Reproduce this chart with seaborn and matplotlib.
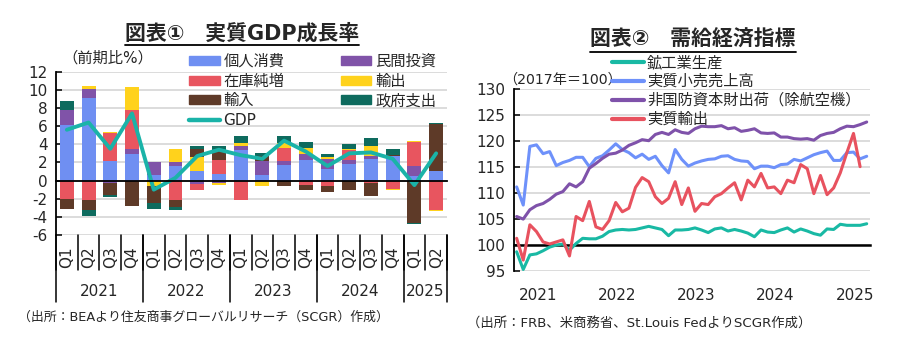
import matplotlib
matplotlib.use("Agg")
import matplotlib.pyplot as plt
import seaborn as sns
import numpy as np
import pandas as pd
from matplotlib.lines import Line2D
from matplotlib.patches import Patch

# ---- chart 1 : real GDP growth contributions (q/q annualised, %) ----
quarters = ["Q1", "Q2", "Q3", "Q4"] * 4 + ["Q1", "Q2"]
gdp_years = ["2021", "2022", "2023", "2024", "2025"]
consumption = [6.18, 9.1, 2.13, 2.98, 0.66, 1.65, 1.1, 0.77, 3.35, 0.66, 1.69, 2.32, 1.32, 1.88, 2.43, 2.68, 0.48, 1.03]
investment = [1.65, 1.0, -0.26, 0.55, 1.4, 0.41, -0.33, -0.26, 0.51, 1.47, 0.44, 0.66, 1.07, 0.44, 0.25, -0.1, 1.17, 0.0]
inventories = [-2.02, -2.1, 3.13, 4.23, 0.0, -2.1, -0.67, 1.47, -2.17, 0.0, 1.47, -0.44, -0.55, 1.1, -0.26, -0.85, 2.58, -3.2]
exports = [0.0, 0.3, 0.07, 2.54, -0.6, 1.43, 1.5, -0.18, 0.29, -0.63, 0.55, 0.62, 0.21, 0.07, 1.18, -0.07, 0.11, -0.18]
imports = [-1.1, -1.1, -1.28, -2.76, -1.86, -0.84, 0.89, 1.0, 0.0, 0.55, -0.63, -0.56, -0.74, -1.0, -1.47, 0.1, -4.67, 5.26]
government = [0.92, -0.73, -0.26, -0.07, -0.63, -0.26, 0.3, 0.55, 0.81, 0.37, 0.81, 0.63, 0.34, 0.59, 0.84, 0.7, -0.11, 0.07]
gdp = [5.6, 6.4, 3.5, 7.4, -1.0, 0.3, 2.7, 3.4, 2.8, 2.4, 4.4, 3.2, 1.6, 3.0, 3.1, 2.4, -0.5, 3.0]

components = ["個人消費", "民間投資", "在庫純増", "輸出", "輸入", "政府支出"]
comp_colors = ["#6f8ff2", "#8053a8", "#e8555f", "#ffd21c", "#5e3a28", "#0e6b5e"]
gdp_color = "#1ab3a8"

# ---- chart 2 : monthly indicators (2017=100), Jan 2021 - Jun 2025 ----
months = pd.date_range("2021-01-01", periods=54, freq="MS")
industrial = [98.7, 95.3, 98.1, 98.3, 98.9, 99.6, 100.0, 100.2, 99.0, 100.3, 101.3, 101.2,
              101.2, 101.7, 102.6, 102.9, 103.0, 102.9, 103.0, 103.3, 103.6, 103.3, 103.0, 101.8,
              102.9, 102.9, 103.0, 103.3, 102.9, 102.4, 103.1, 103.3, 102.7, 103.0, 102.7, 102.3,
              101.6, 102.9, 102.5, 102.4, 102.9, 103.3, 102.5, 103.1, 102.7, 102.2, 101.9, 103.1,
              103.0, 104.0, 103.8, 103.8, 103.8, 104.1]
retail = [111.2, 107.7, 119.0, 119.3, 117.6, 118.0, 115.3, 115.9, 116.3, 116.9, 116.9, 115.1,
          116.7, 117.2, 118.3, 119.5, 118.4, 117.8, 116.8, 117.5, 116.5, 117.1, 115.3, 113.9,
          118.4, 116.5, 115.2, 115.8, 116.2, 116.5, 116.6, 117.1, 117.2, 116.5, 116.2, 116.1,
          114.7, 115.2, 115.2, 114.9, 115.5, 115.6, 116.5, 116.2, 116.8, 117.4, 117.8, 118.1,
          116.3, 116.3, 117.8, 117.9, 116.6, 117.1]
capex = [105.5, 105.0, 106.8, 107.6, 108.0, 108.8, 109.8, 110.3, 111.8, 111.2, 112.2, 114.8,
         115.7, 116.7, 117.5, 117.7, 118.3, 119.2, 119.7, 120.3, 120.1, 121.3, 121.7, 121.3,
         122.2, 121.7, 121.5, 122.4, 122.9, 122.8, 122.8, 123.0, 122.4, 122.6, 121.9, 122.1,
         122.4, 121.6, 121.5, 121.6, 120.8, 120.8, 120.5, 120.4, 120.5, 120.2, 121.1, 121.5,
         121.7, 122.4, 122.9, 122.8, 123.2, 123.7]
real_exports = [101.3, 97.1, 103.9, 102.6, 100.6, 100.2, 100.6, 101.0, 97.9, 105.5, 104.7, 108.4,
                103.5, 103.0, 104.7, 108.2, 106.4, 107.1, 111.1, 113.0, 112.2, 109.3, 108.0, 109.0,
                112.2, 107.8, 111.0, 106.5, 108.0, 107.8, 109.3, 109.9, 111.0, 112.0, 108.7, 112.5,
                111.2, 113.8, 111.0, 111.2, 109.9, 112.5, 112.0, 115.5, 114.7, 109.9, 113.4, 109.7,
                111.0, 113.9, 117.8, 121.5, 115.1]
series_names = ["鉱工業生産", "実質小売売上高", "非国防資本財出荷（除航空機）", "実質輸出"]
series_colors = ["#19b9a4", "#6e91fa", "#7f52aa", "#e8525f"]

sns.set_theme(style="white")
plt.rcParams["font.family"] = ["DejaVu Sans", "Noto Sans CJK JP"]
plt.rcParams["axes.unicode_minus"] = False

fig = plt.figure(figsize=(9, 3.51), dpi=100)
W, H = 900, 351
grid_c = "#d9d9d9"

# ================= left chart =================
ax1 = fig.add_axes([56 / W, 1 - 235 / H, 391 / W, 163.3 / H])
x = np.arange(len(quarters))
vals = np.array([consumption, investment, inventories, exports, imports, government])
pos_base = np.zeros(len(x))
neg_base = np.zeros(len(x))
for name, col, v in zip(components, comp_colors, vals):
    pos = np.where(v > 0, v, 0)
    neg = np.where(v < 0, v, 0)
    ax1.bar(x, pos, bottom=pos_base, width=0.64, color=col, edgecolor="none", zorder=2)
    ax1.bar(x, neg, bottom=neg_base, width=0.64, color=col, edgecolor="none", zorder=2)
    pos_base += pos
    neg_base += neg
sns.lineplot(x=x, y=gdp, ax=ax1, color=gdp_color, lw=2.8, zorder=4)

ax1.set_xlim(-0.5, len(x) - 0.5)
ax1.set_ylim(-6, 12)
ax1.set_yticks(range(-6, 13, 2))
ax1.yaxis.grid(True, color=grid_c, lw=1.3, zorder=0)
ax1.xaxis.grid(False)
for s in ["top", "right"]:
    ax1.spines[s].set_visible(False)
ax1.spines["left"].set_color("black")
ax1.spines["left"].set_linewidth(1.3)
ax1.spines["bottom"].set_position(("data", 0))
ax1.spines["bottom"].set_color("black")
ax1.spines["bottom"].set_linewidth(1.3)
ax1.spines["bottom"].set_zorder(5)
ax1.set_xticks(np.arange(len(x) + 1) - 0.5)
ax1.set_xticklabels([])
ax1.tick_params(axis="x", direction="inout", length=7, width=1.1, color="black")
ax1.tick_params(axis="y", direction="in", length=4, width=1.1, color="black", labelsize=11, pad=6)
ax1.tick_params(axis="y", left=True)

tr = ax1.get_xaxis_transform()
for k in range(len(x) + 1):
    ax1.plot([k - 0.5, k - 0.5], [0, -35 / 163.3], color="black", lw=1.1, transform=tr, clip_on=False)
for i, q in enumerate(quarters):
    ax1.text(i, -22.5 / 163.3, q, rotation=90, ha="center", va="center", fontsize=11, transform=tr)
bounds = [-0.5, 3.5, 7.5, 11.5, 15.5, 17.5]
for b in bounds:
    ax1.plot([b, b], [0, -67 / 163.3], color="black", lw=1.1, transform=tr, clip_on=False)
for j, yr in enumerate(gdp_years):
    ax1.text((bounds[j] + bounds[j + 1]) / 2, -56.7 / 163.3, yr, ha="center", va="center",
             fontsize=11, transform=tr)

handles1 = [Patch(color=comp_colors[0]), Patch(color=comp_colors[2]), Patch(color=comp_colors[4]),
            Line2D([], [], color=gdp_color, lw=3.2),
            Patch(color=comp_colors[1]), Patch(color=comp_colors[3]), Patch(color=comp_colors[5])]
labels1 = [components[0], components[2], components[4], "GDP", components[1], components[3], components[5]]
fig.legend(handles1, labels1, ncol=2, frameon=False, fontsize=11,
           bbox_to_anchor=(189 / W, 1 - 54 / H), loc="upper left",
           handlelength=2.0, handleheight=0.55, handletextpad=0.25,
           labelspacing=0.3, columnspacing=3.7, borderaxespad=0, borderpad=0)

fig.text(62 / W, 1 - 58 / H, "（前期比%）", fontsize=11, ha="left", va="center")
t1 = fig.text(242 / W, 1 - 33.5 / H, "図表①　実質GDP成長率", fontsize=15, fontweight="bold",
              ha="center", va="center")
fig.text(18 / W, 1 - 317 / H, "（出所：BEAより住友商事グローバルリサーチ（SCGR）作成）", fontsize=9.3,
         ha="left", va="center")

# ================= right chart =================
ax2 = fig.add_axes([514 / W, 1 - 271 / H, 356 / W, 181.7 / H])
mx = np.arange(len(months))
df = pd.concat([
    pd.DataFrame({"x": mx, "value": industrial, "series": series_names[0]}),
    pd.DataFrame({"x": mx, "value": retail, "series": series_names[1]}),
    pd.DataFrame({"x": mx, "value": capex, "series": series_names[2]}),
    pd.DataFrame({"x": mx[:len(real_exports)], "value": real_exports, "series": series_names[3]}),
])
sns.lineplot(data=df, x="x", y="value", hue="series", hue_order=series_names,
             palette=series_colors, lw=2.2, ax=ax2, legend=False, zorder=3)
ax2.set_xlim(-0.4, 53.5)
ax2.set_ylim(95, 130)
ax2.set_yticks(range(95, 131, 5))
ax2.yaxis.grid(True, color=grid_c, lw=1.3, zorder=0)
ax2.xaxis.grid(False)
ax2.set_xlabel("")
ax2.set_ylabel("")
for s in ["top", "right"]:
    ax2.spines[s].set_visible(False)
ax2.spines["left"].set_color("black")
ax2.spines["left"].set_linewidth(1.3)
ax2.spines["bottom"].set_position(("data", 100))
ax2.spines["bottom"].set_color("black")
ax2.spines["bottom"].set_linewidth(1.8)
ax2.spines["bottom"].set_zorder(2)
ax2.set_xticks([11.5, 23.5, 35.5, 47.5])
ax2.set_xticklabels([])
ax2.tick_params(axis="x", direction="in", length=5, width=1.1, color="black")
ax2.tick_params(axis="y", direction="in", length=4, width=1.1, color="black", labelsize=11, pad=6, left=True)
tr2 = ax2.get_xaxis_transform()
year_labels = ["2021", "2022", "2023", "2024", "2025"]
for k, yr in enumerate(year_labels):
    ax2.text(3.2 + 12 * k, -24 / 181.7, yr, ha="center", va="center", fontsize=11, transform=tr2)

handles2 = [Line2D([], [], color=c, lw=3) for c in series_colors]
fig.legend(handles2, series_names, frameon=False, fontsize=11,
           bbox_to_anchor=(612 / W, 1 - 55 / H), loc="upper left",
           handlelength=2.1, handletextpad=0.2, labelspacing=0.26, borderaxespad=0, borderpad=0)
fig.text(503 / W, 1 - 80 / H, "（2017年＝100）", fontsize=10.2, ha="left", va="center")
t2 = fig.text(693 / W, 1 - 40 / H, "図表②　需給経済指標", fontsize=15, fontweight="bold",
              ha="center", va="center")
fig.text(467 / W, 1 - 323 / H, "（出所：FRB、米商務省、St.Louis FedよりSCGR作成）", fontsize=9.6,
         ha="left", va="center")

# underline the titles
fig.canvas.draw()
renderer = fig.canvas.get_renderer()
for t in (t1, t2):
    bb = t.get_window_extent(renderer).transformed(fig.transFigure.inverted())
    fig.add_artist(Line2D([bb.x0, bb.x1], [bb.y0 - 1.5 / H, bb.y0 - 1.5 / H], color="black",
                          lw=1.3, transform=fig.transFigure))

fig.savefig("out.png", dpi=100)
plt.close(fig)
